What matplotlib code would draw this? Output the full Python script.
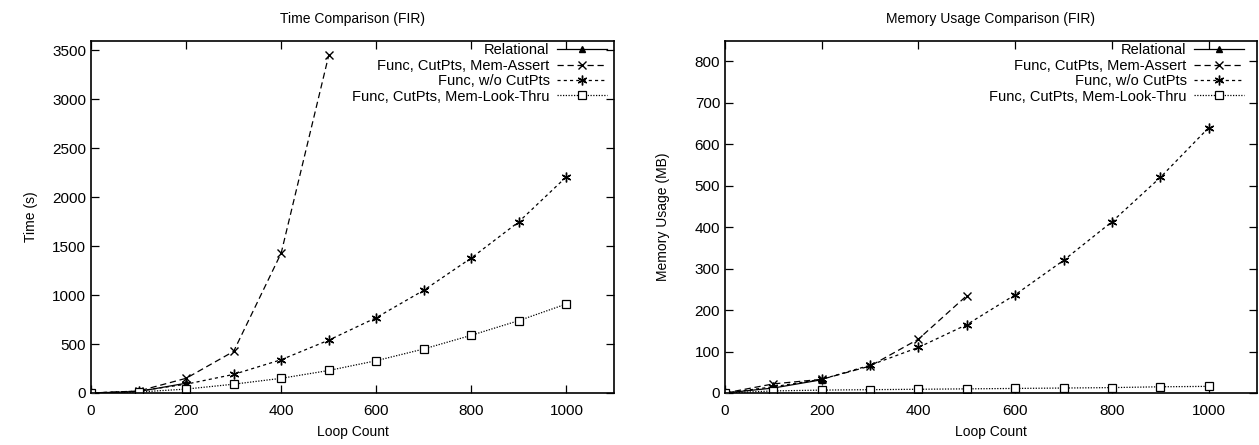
import matplotlib
matplotlib.use("Agg")
import matplotlib.pyplot as plt

# Time data (s)
x_rel = [0, 100, 200]
t_rel = [0, 15, 100]
x_assert = [0, 100, 200, 300, 400, 500]
t_assert = [0, 20, 150, 425, 1430, 3450]
x_full = [0, 100, 200, 300, 400, 500, 600, 700, 800, 900, 1000]
t_wo = [0, 20, 90, 190, 340, 540, 770, 1050, 1380, 1750, 2210]
t_look = [0, 10, 40, 90, 150, 230, 330, 450, 590, 740, 910]

# Memory data (MB)
m_rel = [0, 12, 32]
m_assert = [0, 22, 33, 65, 130, 235]
m_wo = [0, 15, 33, 67, 110, 165, 237, 320, 413, 520, 640]
m_look = [0, 5, 7, 8, 9, 10, 11, 12, 13, 15, 16]

labels = ["Relational", "Func, CutPts, Mem-Assert", "Func, w/o CutPts", "Func, CutPts, Mem-Look-Thru"]
titles = ["Time Comparison (FIR)", "Memory Usage Comparison (FIR)"]
ylabels = ["Time (s)", "Memory Usage (MB)"]

plt.rcParams['font.family'] = ['Liberation Sans', 'DejaVu Sans']
fig = plt.figure(figsize=(12.59, 4.45), dpi=100)
ax1 = fig.add_axes([91/1259, 52/445, 523/1259, 352.3/445])
ax2 = fig.add_axes([725/1259, 52/445, 532/1259, 352.3/445])

def draw(ax, yr, ya, yw, yl, ymax, yticks, title, ylabel, ylpad, wpx, gap):
    ax.plot(x_rel, yr, color='black', lw=0.9, ls='-', marker='^', ms=4.5, mfc='black', label=labels[0])
    ax.plot(x_assert, ya, color='black', lw=0.9, ls=(0, (5, 3)), marker='x', ms=6, mew=1.0, label=labels[1])
    ax.plot(x_full, yw, color='black', lw=0.9, ls=(0, (2.5, 2.5)), marker=(6, 2, 0), ms=7, mew=1.0, label=labels[2])
    ax.plot(x_full, yl, color='black', lw=0.9, ls=(0, (1, 1.2)), marker='s', ms=6, mfc='white', mew=0.9, label=labels[3])
    ax.set_xlim(0, 1100)
    ax.set_ylim(0, ymax)
    ax.set_xticks([0, 200, 400, 600, 800, 1000])
    ax.set_yticks(yticks)
    ax.tick_params(direction='in', top=True, right=True, length=6, width=0.9, labelsize=11)
    ax.tick_params(axis='x', pad=8)
    for s in ax.spines.values():
        s.set_linewidth(1.2)
    ax.set_title(title, fontsize=10, pad=13)
    ax.set_xlabel("Loop Count", fontsize=10, labelpad=5)
    ax.set_ylabel(ylabel, fontsize=10, labelpad=ylpad)
    ax.legend(loc='upper right', bbox_to_anchor=(1 - gap / wpx, 1 - 1 / 352), frameon=False,
              markerfirst=False, fontsize=10.5, handlelength=3.4, labelspacing=0.1,
              borderaxespad=0.0, borderpad=0.1, handletextpad=0.5)

draw(ax1, t_rel, t_assert, t_wo, t_look, 3600, range(0, 3501, 500), titles[0], ylabels[0], 10, 523, 6)
draw(ax2, m_rel, m_assert, m_wo, m_look, 850, range(0, 801, 100), titles[1], ylabels[1], 18, 532, 12)

fig.savefig("out.png", dpi=100)
